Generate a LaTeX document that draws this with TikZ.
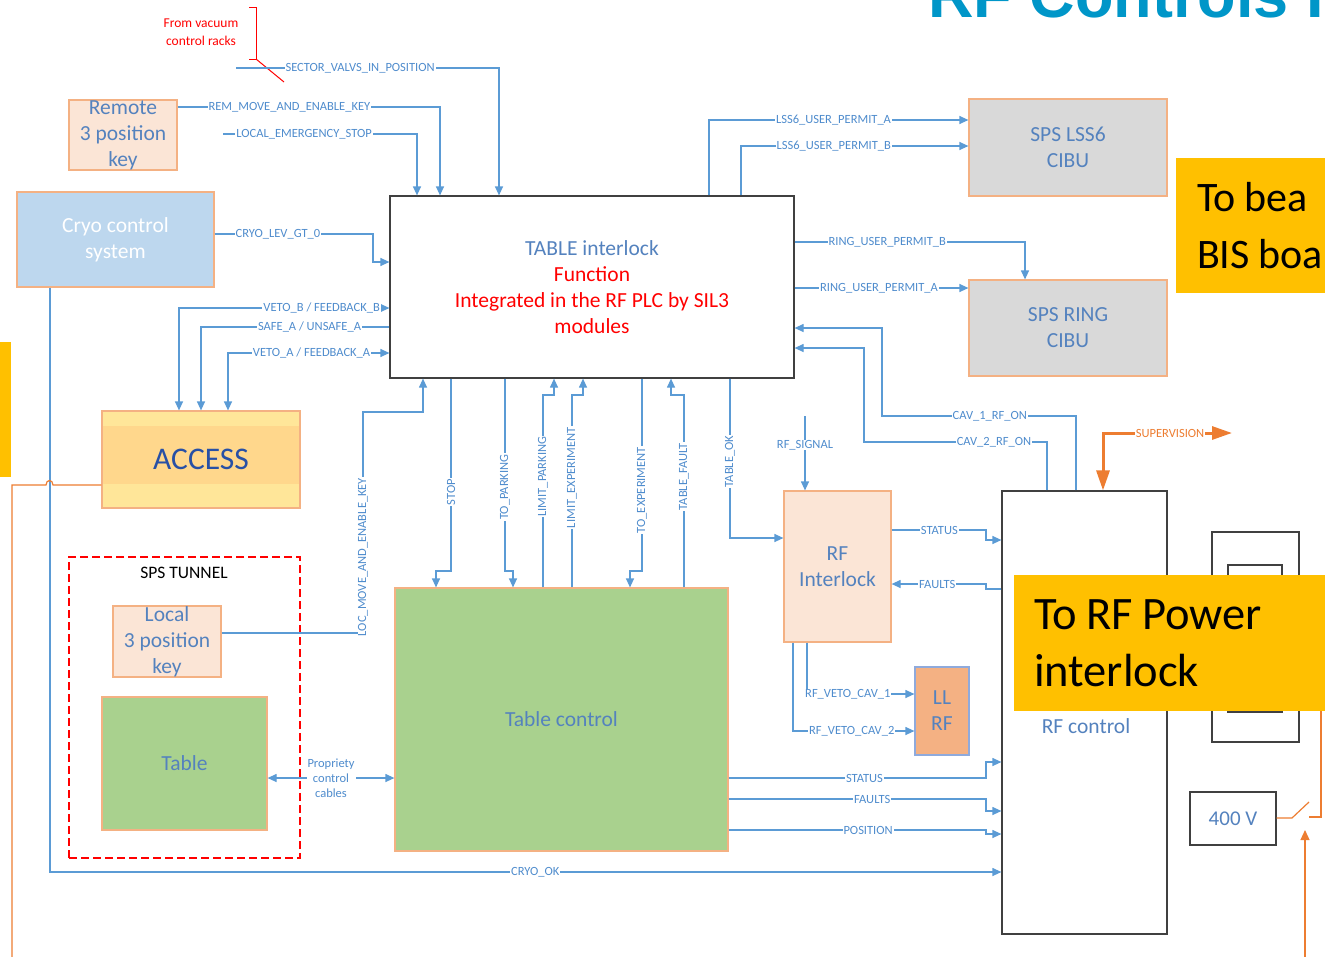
\documentclass[tikz,border=0pt]{standalone}
\usepackage{fontspec}
\setmainfont{Carlito}
\newfontfamily\titlefont{Liberation Sans}
\usetikzlibrary{arrows.meta}

\definecolor{sigblue}{RGB}{91,155,213}
\definecolor{lblblue}{RGB}{79,140,205}
\definecolor{txtblue}{RGB}{84,130,190}
\definecolor{keyfill}{RGB}{251,229,214}
\definecolor{boxorange}{RGB}{244,177,131}
\definecolor{cryofill}{RGB}{189,215,238}
\definecolor{cibugray}{RGB}{217,217,217}
\definecolor{greenfill}{RGB}{169,209,142}
\definecolor{accfill}{RGB}{255,230,153}
\definecolor{accmid}{RGB}{255,215,140}
\definecolor{accesstext}{RGB}{40,80,165}
\definecolor{tagyellow}{RGB}{255,192,0}
\definecolor{supplyorange}{RGB}{237,125,49}
\definecolor{framegray}{RGB}{64,64,64}
\definecolor{titleblue}{RGB}{0,150,200}
\definecolor{llrfline}{RGB}{143,170,220}

% narrow word gap for the big yellow notes
\newcommand{\tagsp}{\hspace{0.2em}}

\begin{document}
\begin{tikzpicture}[x=1pt, y=-1pt,
    sig/.style={draw=sigblue, line width=1.2pt},
    arr/.style={-{Triangle[length=9pt, width=8pt]}},
    twoarr/.style={{Triangle[length=9pt, width=8pt]}-{Triangle[length=9pt, width=8pt]}},
    lbl/.style={fill=white, text=lblblue, inner xsep=1pt, inner ysep=0.5pt, font=\fontsize{12.5}{14}\selectfont},
    vlbl/.style={lbl, rotate=90},
    blk/.style={draw=boxorange, line width=1.2pt, text=txtblue, align=center, inner sep=0pt,
      font=\fontsize{21.5}{26}\selectfont},
    plainbox/.style={draw=framegray, line width=1.2pt, fill=white},
    tagbox/.style={fill=tagyellow, inner xsep=20pt, inner ysep=0pt, align=left,
      font=\fontsize{46.5}{57}\selectfont},
    supline/.style={draw=supplyorange, line width=1.2pt}]

  \useasboundingbox (0,0) rectangle (1325,956);
  \node[anchor=base west, inner sep=0pt, text=titleblue, font=\titlefont\bfseries\fontsize{63}{70}\selectfont]
    (title) at (928,17) {RF Controls I};
  \fill[tagyellow] (0,342) rectangle (11,477);

  % blocks of the interlock chain
  \node[blk, fill=keyfill, minimum width=108pt, minimum height=70pt] (remote) at (123,135) {Remote\\3 position\\key};
  \node[blk, fill=cryofill, text=white, minimum width=197pt, minimum height=95pt] (cryo) at (115.5,239.5) {Cryo control\\system};
  \node[plainbox, align=center, inner sep=0pt, minimum width=404pt, minimum height=182pt,
    font=\fontsize{21.5}{26}\selectfont] (tbl) at (592,287)
    {\textcolor{txtblue}{TABLE interlock}\\\textcolor{red}{Function}\\
     \textcolor{red}{Integrated in the RF PLC by SIL3}\\\textcolor{red}{modules}};
  \node[blk, fill=cibugray, minimum width=198pt, minimum height=97pt] (lss6) at (1068,147.5) {SPS LSS6\\CIBU};
  \node[blk, fill=cibugray, minimum width=198pt, minimum height=96pt] (ring) at (1068,328) {SPS RING\\CIBU};
  \node[blk, fill=accfill, text=accesstext, minimum width=198pt, minimum height=97pt,
    font=\fontsize{31.5}{36}\selectfont,
    path picture={\fill[accmid] ([yshift=-15pt]path picture bounding box.north west)
      rectangle ([yshift=24pt]path picture bounding box.south east);}] (access) at (201,459.5) {ACCESS};
  \node[blk, fill=keyfill, minimum width=107pt, minimum height=151pt] (rfint) at (837.5,566.5) {RF\\Interlock};
  \node[plainbox, minimum width=165pt, minimum height=443pt] (rfctl) at (1084.5,712.5) {};
  \node[text=txtblue, font=\fontsize{21.5}{26}\selectfont] (rfctltext) at (1086,726) {RF control};
  \node[blk, fill=boxorange, draw=llrfline, minimum width=54pt, minimum height=88pt] (llrf) at (942,711) {LL\\RF};
  \node[blk, fill=greenfill, minimum width=333pt, minimum height=263pt] (tctl) at (561.5,719.5) {Table control};

  % inside the tunnel
  \node[draw=red, line width=1.2pt, dash pattern=on 8pt off 4pt, minimum width=231pt, minimum height=301pt]
    (tunnel) at (184.5,707.5) {};
  \node[font=\fontsize{17.5}{20}\selectfont] (tunneltitle) at (184,573) {SPS TUNNEL};
  \node[blk, fill=keyfill, minimum width=108pt, minimum height=71pt] (lockey) at (167,641.5) {Local\\3 position\\key};
  \node[blk, fill=greenfill, minimum width=165pt, minimum height=133pt] (table) at (184.5,763.5) {Table};

  % power side
  \node[plainbox, minimum width=87pt, minimum height=210pt] (pwrcab) at (1255.5,637) {};
  \node[plainbox, minimum width=54pt, minimum height=147pt] (pwrunit) at (1255,638.5) {};
  \node[plainbox, text=txtblue, font=\fontsize{21}{26}\selectfont, minimum width=86pt, minimum height=53pt]
    (v400) at (1233,818.5) {400 V};

  % vacuum racks
  \node[text=red, align=center, font=\fontsize{13.5}{18}\selectfont] (vacnote) at (201,32) {From vacuum\\control racks};
  \draw[red, line width=1pt] (249,7) -- (256,7) -- (256,59) -- (249,59);
  \draw[red, line width=1pt] (256,59) -- (284,82);
  \coordinate (vacin) at (236,68);
  \coordinate (estop) at (223,134);

  % inputs on the top of the TABLE interlock
  \draw[sig, arr] (vacin) -| (tbl.north -| 499,0) node[lbl, pos=0.236] {SECTOR\_VALVS\_IN\_POSITION};
  \draw[sig, arr] (remote.east |- 0,107) -| (tbl.north -| 440,0) node[lbl, pos=0.213] {REM\_MOVE\_AND\_ENABLE\_KEY};
  \draw[sig, arr] (estop) -| (tbl.north -| 417,0) node[lbl, pos=0.209] {LOCAL\_EMERGENCY\_STOP};

  % left side: cryo and access
  \draw[sig, arr] (cryo.east |- 0,234) -| (373,262) node[lbl, pos=0.2] {CRYO\_LEV\_GT\_0} -- (tbl.west |- 0,262);
  \draw[sig, twoarr] (tbl.west |- 0,308) -| (access.north -| 179,0) node[lbl, pos=0.161] {VETO\_B / FEEDBACK\_B};
  \draw[sig, arr] (tbl.west |- 0,327) -| (access.north -| 201,0) node[lbl, pos=0.212] {SAFE\_A / UNSAFE\_A};
  \draw[sig, twoarr] (tbl.west |- 0,353) -| (access.north -| 228,0) node[lbl, pos=0.241] {VETO\_A / FEEDBACK\_A};

  % right side: the CIBUs and the RF control
  \draw[sig, arr] (tbl.north -| 709,0) |- (lss6.west |- 0,120) node[lbl, pos=0.74] {LSS6\_USER\_PERMIT\_A};
  \draw[sig, arr] (tbl.north -| 741,0) |- (lss6.west |- 0,146) node[lbl, pos=0.704] {LSS6\_USER\_PERMIT\_B};
  \draw[sig, arr] (tbl.east |- 0,242) -| (ring.north -| 1025,0) node[lbl, pos=0.201] {RING\_USER\_PERMIT\_B};
  \draw[sig, arr] (tbl.east |- 0,288) -- (ring.west |- 0,288) node[lbl, pos=0.486] {RING\_USER\_PERMIT\_A};
  \draw[sig, arr] (rfctl.north -| 1076,0) |- (882,416) node[lbl, pos=0.722] {CAV\_1\_RF\_ON} |- (tbl.east |- 0,328);
  \draw[sig, arr] (rfctl.north -| 1047,0) |- (864,442) node[lbl, pos=0.645] {CAV\_2\_RF\_ON} |- (tbl.east |- 0,348);
  \coordinate (supout) at (1232,433);
  \draw[supline, line width=3pt, {Triangle[length=20pt, width=13pt]}-{Triangle[length=20pt, width=13pt]}]
    (rfctl.north -| 1103,0) |- (supout) node[lbl, text=supplyorange, pos=0.76] {SUPERVISION};

  % RF interlock
  \coordinate (rfsig) at (805,416);
  \draw[sig, arr] (rfsig) -- (rfint.north -| 805,0) node[lbl, pos=0.39] {RF\_SIGNAL};
  \draw[sig, arr] (tbl.south -| 730,0) |- (rfint.west |- 0,538) node[vlbl, pos=0.26] {TABLE\_OK};
  \draw[sig, arr] (rfint.east |- 0,530) -| (986,540) node[lbl, pos=0.253] {STATUS} -- (rfctl.west |- 0,540);
  \draw[sig, arr] (rfctl.west |- 0,589) -| (986,584) -- (rfint.east |- 0,584) node[lbl, pos=0.516] {FAULTS};
  \draw[sig, arr] (rfint.south -| 807,0) |- (llrf.west |- 0,694) node[lbl, pos=0.69] {RF\_VETO\_CAV\_1};
  \draw[sig, arr] (rfint.south -| 793,0) |- (llrf.west |- 0,731) node[lbl, pos=0.742] {RF\_VETO\_CAV\_2};

  % between the TABLE interlock and the table control
  \draw[sig, arr] (tbl.south -| 451,0) |- (436,571) node[vlbl, pos=0.295] {STOP} -- (tctl.north -| 436,0);
  \draw[sig, arr] (tbl.south -| 505,0) |- (513,571) node[vlbl, pos=0.282] {TO\_PARKING} -- (tctl.north -| 513,0);
  \draw[sig, arr] (tctl.north -| 543,0) |- (554,395) node[vlbl, pos=0.288] {LIMIT\_PARKING} -- (tbl.south -| 554,0);
  \draw[sig, arr] (tctl.north -| 572,0) |- (583,395) node[vlbl, pos=0.285] {LIMIT\_EXPERIMENT} -- (tbl.south -| 583,0);
  \draw[sig, arr] (tbl.south -| 642,0) |- (630,571) node[vlbl, pos=0.29] {TO\_EXPERIMENT} -- (tctl.north -| 630,0);
  \draw[sig, arr] (tctl.north -| 684,0) |- (671,395) node[vlbl, pos=0.288] {TABLE\_FAULT} -- (tbl.south -| 671,0);
  \draw[sig, arr] (lockey.east |- 0,633) -| (363,412) node[vlbl, pos=0.672] {LOC\_MOVE\_AND\_ENABLE\_KEY}
    -| (tbl.south -| 423,0);
  \draw[sig, twoarr] (table.east |- 0,778) -- (tctl.west |- 0,778)
    node[lbl, pos=0.5, align=center, font=\fontsize{12.5}{15}\selectfont] {Propriety\\control\\cables};

  % table control to the RF control
  \draw[sig, arr] (tctl.east |- 0,778) -| (986,762) node[lbl, pos=0.264] {STATUS} -- (rfctl.west |- 0,762);
  \draw[sig, arr] (tctl.east |- 0,799) -| (986,811) node[lbl, pos=0.279] {FAULTS} -- (rfctl.west |- 0,811);
  \draw[sig, arr] (tctl.east |- 0,830) -| (986,834) node[lbl, pos=0.271] {POSITION} -- (rfctl.west |- 0,834);
  \draw[sig, arr] (cryo.south -| 50,0) |- (rfctl.west |- 0,872) node[lbl, pos=0.755] {CRYO\_OK};

  % orange supply lines
  \coordinate (accfeed) at (12,960);
  \draw[supline] (access.west |- 0,485) -- (53,485) .. controls (53,479) and (46,479) .. (46,485)
    -- (accfeed |- 0,485) -- (accfeed);
  \coordinate (swtop) at (1321,700);
  \coordinate (swfeed) at (1305,960);
  \draw[supline] (v400.east |- 0,818) -- (1292,818) -- (1309,802);
  \draw[supline] (1309,817) -| (swtop);
  \draw[supline, -{Triangle[length=10pt, width=9pt]}] (swfeed) -- (swfeed |- 0,830);

  % yellow notes on top
  \node[tagbox, text width=152pt, minimum height=135pt, inner xsep=21pt,
    font=\fontsize{42}{57}\selectfont] (beamtag) at (1273,225.5) {To\tagsp bea\\BIS\tagsp boa};
  \node[tagbox, text width=316pt, minimum height=136pt] (rftag) at (1192,643) {To\tagsp RF\tagsp Power\\interlock};
\end{tikzpicture}
\end{document}
